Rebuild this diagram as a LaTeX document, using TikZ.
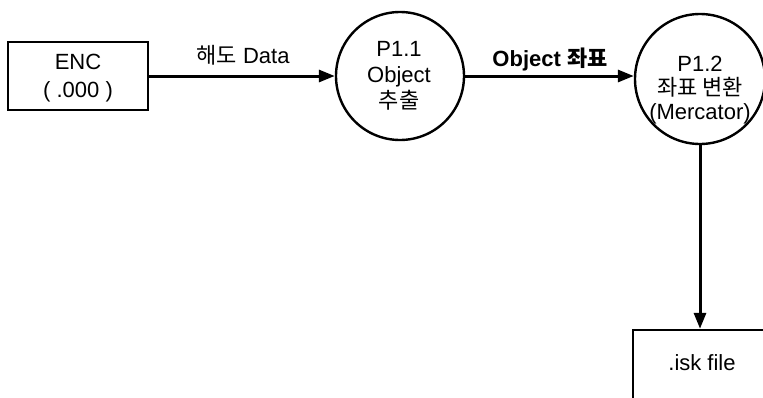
\documentclass[tikz,border=0pt]{standalone}
\usepackage{fontspec}
\setmainfont{Liberation Sans}
\newfontfamily\kr{Noto Sans CJK KR}
\usetikzlibrary{arrows.meta}
\begin{document}
\begin{tikzpicture}[x=1pt,y=-1pt,
  txt/.style={inner sep=0pt, align=center, font=\fontsize{22}{26}\selectfont},
  store/.style={draw, line width=2.4pt, rectangle, inner sep=0pt},
  proc/.style={draw, line width=2.4pt, circle, inner sep=0pt},
  flow/.style={line width=3pt, -{Triangle[length=16pt,width=12pt]}}]
\useasboundingbox (0,0) rectangle (763,397);
\clip (0,0) rectangle (763,397);
% external entity
\node[store, minimum width=140pt, minimum height=68pt] (enc) at (78,76) {};
\node[txt, font=\fontsize{22}{28}\selectfont] (enct) at (78,78) {ENC\\( .000 )};
% processes
\node[proc, minimum size=128pt] (p11) at (400,76) {};
\node[txt] (p11t) at (399,76) {P1.1\\Object\\{\kr 추출}};
\node[proc, minimum size=130pt] (p12) at (700,79) {};
\node[txt, font=\fontsize{22}{24}\selectfont] (p12t) at (700,90) {P1.2\\{\kr 좌표 변환}\\(Mercator)};
% output file
\node[store, minimum width=160pt, minimum height=100pt] (isk) at (713,380) {};
\node[txt] (iskt) at (702,363) {.isk file};
% flows
\draw[flow] (enc.east) -- (p11.west);
\node[txt] (l1) at (243,55) {{\kr 해도} Data};
\draw[flow] (p11.east) -- (p11.east -| p12.west);
\node[txt, font=\bfseries\fontsize{22}{26}\selectfont] (l2) at (550,59) {Object {\kr 좌표}};
\draw[flow] (p12.south) -- (p12.south |- isk.north);
\end{tikzpicture}
\end{document}
